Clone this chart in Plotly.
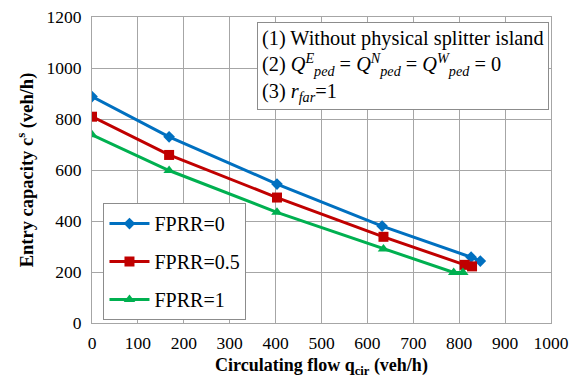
import plotly.graph_objects as go

# Circulating flow (veh/h) and entry capacity (veh/h) per FPRR level
q_fprr0 = [0, 168, 403, 632, 826, 846]
c_fprr0 = [888, 730, 545, 380, 258, 243]

q_fprr05 = [0, 168, 403, 635, 812, 828]
c_fprr05 = [809, 659, 492, 338, 228, 222]

q_fprr1 = [0, 168, 403, 635, 788, 808]
c_fprr1 = [738, 598, 434, 290, 198, 198]

series_names = ["FPRR=0", "FPRR=0.5", "FPRR=1"]
x_ticks = [0, 100, 200, 300, 400, 500, 600, 700, 800, 900, 1000]
y_ticks = [0, 200, 400, 600, 800, 1000, 1200]

FONT = "Times New Roman, Liberation Serif, DejaVu Serif, serif"
GRID = "#a6a6a6"

fig = go.Figure()
styles = [
    ("#0070C0", "diamond", 9),
    ("#C00000", "square", 10),
    ("#00B050", "triangle-up", 10),
]
for i, (xs, ys, name, (col, sym, sz)) in enumerate(zip(
        [q_fprr0, q_fprr05, q_fprr1],
        [c_fprr0, c_fprr05, c_fprr1],
        series_names, styles)):
    fig.add_trace(go.Scatter(
        x=xs, y=ys, name=name, mode="lines+markers",
        line=dict(color=col, width=3),
        marker=dict(symbol=sym, size=sz, color=col),
        legendgroup=f"g{i}",
    ))

fig.update_layout(
    width=586, height=376,
    margin=dict(l=92, r=35, t=17, b=53),
    paper_bgcolor="white", plot_bgcolor="white",
    font=dict(family=FONT, size=17, color="black"),
    showlegend=True,
    legend=dict(
        x=0.025, y=0.392, xanchor="left", yanchor="top",
        bgcolor="white", bordercolor="#8c8c8c", borderwidth=1,
        font=dict(family=FONT, size=20, color="black"),
        tracegroupgap=9, itemwidth=40,
    ),
    xaxis=dict(
        range=[0, 1000], tickvals=x_ticks, showgrid=True, gridcolor=GRID,
        gridwidth=1, showline=True, linecolor=GRID, mirror=True,
        zeroline=False, ticks="", ticklabelstandoff=4, automargin=False,
        tickfont=dict(family=FONT, size=17.5),
    ),
    yaxis=dict(
        range=[0, 1200], tickvals=y_ticks, showgrid=True, gridcolor=GRID,
        gridwidth=1, showline=True, linecolor=GRID, mirror=True,
        zeroline=False, ticks="", ticklabelstandoff=6, automargin=False,
        tickfont=dict(family=FONT, size=17.5),
        title=dict(text="<b>Entry capacity c<sup>s</sup> (veh/h)</b>",
                   font=dict(family=FONT, size=18.5), standoff=8),
    ),
)

# x-axis title placed under the tick labels
fig.add_annotation(
    xref="paper", yref="paper", x=0.5, y=-0.141,
    xanchor="center", yanchor="middle", showarrow=False,
    text="<b>Circulating flow q<sub>cir</sub> (veh/h)</b>",
    font=dict(family=FONT, size=18, color="black"),
)

fig.add_annotation(
    xref="paper", yref="paper", x=0.359, y=0.985,
    xanchor="left", yanchor="top", align="left", showarrow=False,
    text=("(1) Without physical splitter island<br>"
          "(2) <i>Q</i><sup><i>E</i></sup><sub><i>ped</i></sub> = "
          "<i>Q</i><sup><i>N</i></sup><sub><i>ped</i></sub> = "
          "<i>Q</i><sup><i>W</i></sup><sub><i>ped</i></sub> = 0<br>"
          "(3) <i>r<sub>far</sub></i>=1"),
    font=dict(family=FONT, size=20.3, color="black"),
    bgcolor="white", bordercolor="#8c8c8c", borderwidth=1, borderpad=4,
)

fig.write_html("out.html")
